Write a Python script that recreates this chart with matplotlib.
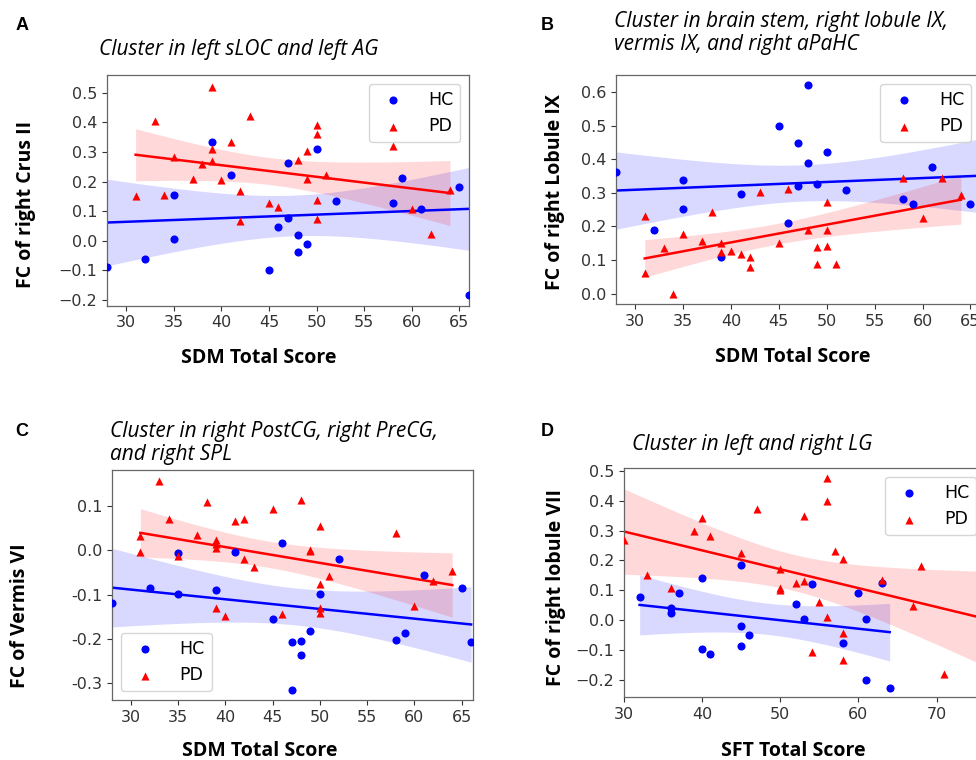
import numpy as np
import matplotlib
matplotlib.use('Agg')
import matplotlib.pyplot as plt

# ---- data ----
# A: SDM vs FC of right Crus II
a_hc_x = [28, 32, 35, 35, 39, 41, 45, 46, 47, 47, 48, 48, 49, 50, 52, 58, 59, 61, 65, 66]
a_hc_y = [-0.087, -0.061, 0.153, 0.006, 0.334, 0.222, -0.100, 0.045, 0.262, 0.078,
          0.018, -0.039, -0.011, 0.311, 0.135, 0.127, 0.212, 0.106, 0.180, -0.183]
a_pd_x = [31, 33, 34, 35, 37, 38, 39, 39, 39, 40, 41, 42, 42, 43, 45, 46, 48, 49, 49,
          50, 50, 50, 50, 51, 58, 60, 62, 64]
a_pd_y = [0.152, 0.403, 0.154, 0.283, 0.208, 0.258, 0.520, 0.309, 0.270, 0.204, 0.333,
          0.168, 0.067, 0.421, 0.129, 0.115, 0.272, 0.303, 0.208, 0.390, 0.360, 0.137,
          0.072, 0.222, 0.321, 0.106, 0.024, 0.171]

# B: SDM vs FC of right Lobule IX
b_hc_x = [28, 32, 35, 35, 39, 41, 45, 46, 47, 47, 48, 48, 49, 50, 52, 58, 59, 61, 65, 66]
b_hc_y = [0.361, 0.189, 0.339, 0.251, 0.108, 0.296, 0.499, 0.211, 0.448, 0.320, 0.620,
          0.389, 0.326, 0.423, 0.308, 0.283, 0.268, 0.377, 0.268, 0.308]
b_pd_x = [31, 31, 33, 34, 35, 37, 38, 39, 39, 40, 41, 42, 42, 43, 45, 46, 48, 49, 49,
          50, 50, 50, 51, 58, 60, 62, 64]
b_pd_y = [0.232, 0.060, 0.136, 0.000, 0.176, 0.157, 0.244, 0.150, 0.125, 0.126, 0.117,
          0.109, 0.078, 0.304, 0.152, 0.312, 0.188, 0.138, 0.088, 0.272, 0.189, 0.141,
          0.088, 0.344, 0.226, 0.344, 0.293]

# C: SDM vs FC of Vermis VI
c_hc_x = [28, 32, 35, 35, 39, 41, 45, 46, 47, 47, 48, 48, 49, 50, 52, 58, 59, 61, 65, 66]
c_hc_y = [-0.120, -0.084, -0.005, -0.098, -0.089, -0.003, -0.156, 0.016, -0.207, -0.317,
          -0.205, -0.238, -0.182, -0.098, -0.019, -0.202, -0.188, -0.055, -0.086, -0.208]
c_pd_x = [31, 31, 33, 34, 35, 37, 38, 39, 39, 39, 39, 40, 41, 42, 42, 43, 45, 46, 48,
          49, 49, 50, 50, 50, 50, 51, 58, 60, 62, 64]
c_pd_y = [0.033, -0.003, 0.157, 0.071, -0.013, 0.035, 0.109, 0.023, 0.014, 0.005, -0.130,
          -0.148, 0.066, 0.071, -0.020, -0.037, 0.095, -0.144, 0.114, 0.001, -0.002, 0.056,
          -0.075, -0.130, -0.141, -0.058, 0.040, -0.125, -0.070, -0.046]

# D: SFT vs FC of right lobule VII
d_hc_x = [32, 36, 36, 37, 40, 40, 41, 45, 45, 45, 46, 52, 53, 54, 58, 60, 61, 61, 63, 64]
d_hc_y = [0.077, 0.040, 0.023, 0.091, 0.143, -0.097, -0.111, 0.186, -0.019, -0.086,
          -0.050, 0.055, 0.004, 0.120, -0.076, 0.093, 0.004, -0.199, 0.125, -0.225]
d_pd_x = [30, 33, 36, 39, 40, 41, 45, 47, 50, 50, 50, 52, 53, 53, 54, 55, 56, 56, 56,
          57, 58, 58, 58, 63, 67, 68, 71]
d_pd_y = [0.270, 0.150, 0.107, 0.299, 0.343, 0.281, 0.226, 0.372, 0.171, 0.109, 0.102,
          0.124, 0.347, 0.130, -0.105, 0.060, 0.474, 0.400, 0.012, 0.232, 0.206, -0.041,
          -0.131, 0.135, 0.047, 0.181, -0.180]

W, H = 976, 760


def px_rect(l, t, r, b):
    return [l / W, 1 - b / H, (r - l) / W, (b - t) / H]


def fit_band(x, y, xs):
    # least squares line with 95% CI of the mean prediction
    x = np.asarray(x, float)
    y = np.asarray(y, float)
    n = len(x)
    b1, b0 = np.polyfit(x, y, 1)
    resid = y - (b0 + b1 * x)
    s = np.sqrt(np.sum(resid ** 2) / (n - 2))
    z = 1.96
    t = z + (z ** 3 + z) / (4 * (n - 2))
    se = s * np.sqrt(1 / n + (xs - x.mean()) ** 2 / np.sum((x - x.mean()) ** 2))
    yhat = b0 + b1 * xs
    return yhat, yhat - t * se, yhat + t * se


def draw_group(ax, x, y, color, marker, label, x_hi=None):
    lo = min(x)
    hi = max(x) if x_hi is None else x_hi
    xs = np.linspace(lo, hi, 100)
    yhat, ylo, yup = fit_band(x, y, xs)
    ax.fill_between(xs, ylo, yup, color=color, alpha=0.15, linewidth=0, zorder=1)
    ax.plot(xs, yhat, color=color, linewidth=1.8, zorder=2)
    return ax.scatter(x, y, color=color, marker=marker, s=34, label=label, zorder=3,
                      linewidths=0)


fig = plt.figure(figsize=(W / 100, H / 100), dpi=100)

tick_fs = 11.5
lab_font = dict(family='Open Sans', weight='bold', size=14)
title_font = dict(family='Open Sans', style='italic', size=15)

panels = [
    dict(rect=(107, 75, 469, 305.6), hc=(a_hc_x, a_hc_y), pd=(a_pd_x, a_pd_y),
         xlim=(28, 66), ylim=(-0.219, 0.56), ylabel='FC of right Crus II',
         xlabel='SDM Total Score', loc='upper right', xticks=range(30, 66, 5),
         yticks=np.arange(-0.2, 0.51, 0.1), ylab_pos=(-0.197, 0.44), xlab_pos=(0.42, -0.184)),
    dict(rect=(616, 75, 980, 304), hc=(b_hc_x, b_hc_y), pd=(b_pd_x, b_pd_y),
         xlim=(28, 66), ylim=(-0.031, 0.651), ylabel='FC of right Lobule IX',
         xlabel='SDM Total Score', loc='upper right', xticks=range(30, 66, 5),
         yticks=np.arange(0.0, 0.61, 0.1), ylab_pos=(-0.14, 0.49), xlab_pos=(0.486, -0.188)),
    dict(rect=(112, 470, 473, 700), hc=(c_hc_x, c_hc_y), pd=(c_pd_x, c_pd_y),
         xlim=(28, 66.2), ylim=(-0.339, 0.1825), ylabel='FC of Vermis VI',
         xlabel='SDM Total Score', loc='lower left', xticks=range(30, 66, 5),
         yticks=[-0.3, -0.2, -0.1, 0.0, 0.1], ylab_pos=(-0.227, 0.365), xlab_pos=(0.41, -0.18),
         hyphen=True),
    dict(rect=(624, 468, 985, 697), hc=(d_hc_x, d_hc_y), pd=(d_pd_x, d_pd_y),
         xlim=(30, 76.2), ylim=(-0.256, 0.509), ylabel='FC of right lobule VII',
         xlabel='SFT Total Score', loc='upper right', xticks=range(30, 76, 10),
         yticks=np.arange(-0.2, 0.51, 0.1), ylab_pos=(-0.16, 0.48), xlab_pos=(0.47, -0.192),
         pd_to_edge=True),
]

for p in panels:
    ax = fig.add_axes(px_rect(*p['rect']))
    h1 = draw_group(ax, *p['hc'], 'blue', 'o', 'HC')
    h2 = draw_group(ax, *p['pd'], 'red', '^', 'PD',
                    x_hi=p['xlim'][1] if p.get('pd_to_edge') else None)
    ax.set_xlim(*p['xlim'])
    ax.set_ylim(*p['ylim'])
    ax.set_xticks(list(p['xticks']))
    ax.set_yticks(p['yticks'])
    if p.get('hyphen'):
        ax.set_yticklabels([f'{v:.1f}' for v in p['yticks']])
    ax.tick_params(labelsize=tick_fs, colors='0.2', width=0.8)
    for sp in ax.spines.values():
        sp.set_color('0.4')
        sp.set_linewidth(0.9)
    ax.set_ylabel(p['ylabel'], **lab_font)
    ax.set_xlabel(p['xlabel'], **lab_font)
    ax.yaxis.set_label_coords(*p['ylab_pos'])
    ax.xaxis.set_label_coords(*p['xlab_pos'])
    ax.legend(handles=[h1, h2], loc=p['loc'], fontsize=12.5, handletextpad=1.0)

# panel letters and cluster titles
for letter, x, y in [('A', 22, 25), ('B', 547, 25), ('C', 22, 431), ('D', 547, 431)]:
    fig.text(x / W, 1 - y / H, letter, family='Liberation Sans', weight='bold',
             size=13, ha='center', va='center')

titles = [
    ('Cluster in left sLOC and left AG', 99, 49),
    ('Cluster in brain stem, right lobule IX,\nvermis IX, and right aPaHC', 614, 33),
    ('Cluster in right PostCG, right PreCG,\nand right SPL', 110, 443),
    ('Cluster in left and right LG', 632, 444),
]
for txt, x, y in titles:
    fig.text(x / W, 1 - y / H, txt, ha='left', va='center', linespacing=1.08, **title_font)

fig.savefig('out.png', dpi=100)
